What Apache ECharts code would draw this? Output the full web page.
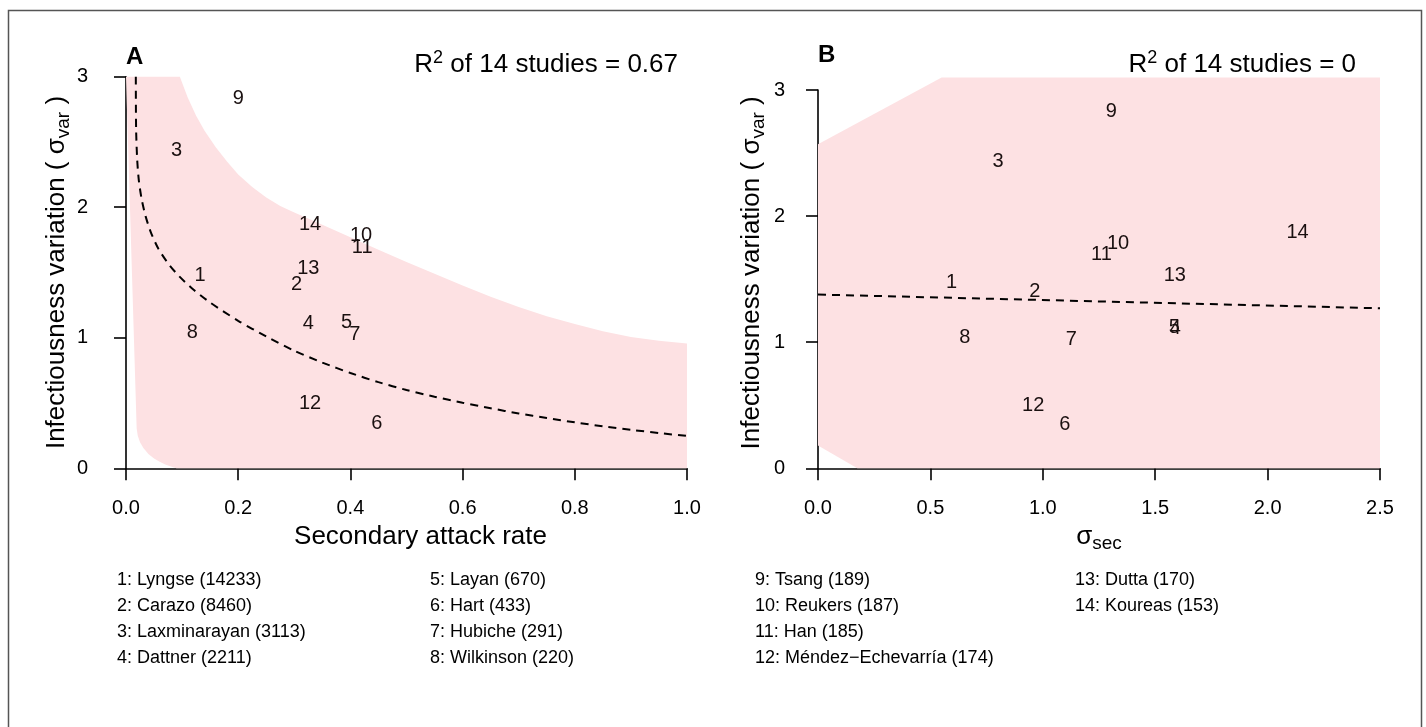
<!DOCTYPE html>
<html><head><meta charset="utf-8">
<script src="https://cdn.jsdelivr.net/npm/echarts@6/dist/echarts.min.js"></script>
<style>html,body{margin:0;padding:0;background:#fff}#chart{width:1426px;height:727px}</style>
</head><body><div id="chart"></div>
<script>
// ---- data ----
const studyIds = ['1','2','3','4','5','6','7','8','9','10','11','12','13','14'];
const studyNames = ['Lyngse (14233)','Carazo (8460)','Laxminarayan (3113)','Dattner (2211)','Layan (670)','Hart (433)','Hubiche (291)','Wilkinson (220)','Tsang (189)','Reukers (187)','Han (185)','Méndez\u2212Echevarría (174)','Dutta (170)','Koureas (153)'];
const sigmaVar = [1.475, 1.405, 2.435, 1.110, 1.118, 0.345, 1.024, 1.040, 2.830, 1.780, 1.694, 0.500, 1.528, 1.870];
const secondaryAttackRate = [0.132, 0.304, 0.090, 0.325, 0.393, 0.447, 0.408, 0.118, 0.200, 0.419, 0.421, 0.328, 0.325, 0.328];
const sigmaSec = [0.594, 0.964, 0.801, 1.590, 1.585, 1.098, 1.127, 0.653, 1.305, 1.335, 1.261, 0.957, 1.587, 2.133];

// dashed fitted curve, panel A
const fitA_x = [0.0175,0.018,0.020,0.023,0.028,0.035,0.045,0.058,0.075,0.095,0.12,0.15,0.2,0.25,0.3,0.35,0.4,0.45,0.5,0.55,0.6,0.65,0.7,0.75,0.8,0.85,0.9,0.95,1.0];
const fitA_y = [3.0,2.6,2.36,2.2,2.06,1.93,1.80,1.68,1.57,1.47,1.37,1.27,1.13,1.01,0.90,0.81,0.73,0.66,0.60,0.548,0.502,0.46,0.42,0.385,0.352,0.322,0.295,0.27,0.248];

// shaded band, panel A: upper edge then lower edge
const bandA_x = [0.096,0.11,0.125,0.14,0.16,0.18,0.2,0.225,0.25,0.275,0.3,0.35,0.4,0.45,0.5,0.55,0.6,0.65,0.7,0.75,0.8,0.85,0.9,0.95,1.0,
                 1.0,0.09,0.08,0.07,0.06,0.05,0.04,0.031,0.025,0.021,0.019,0.0];
const bandA_y = [3.0,2.84,2.70,2.585,2.46,2.35,2.25,2.155,2.075,2.01,1.96,1.865,1.77,1.675,1.58,1.49,1.40,1.315,1.235,1.165,1.105,1.05,1.005,0.978,0.957,
                 0.0,0.0,0.013,0.03,0.05,0.075,0.11,0.155,0.2,0.25,0.305,3.0];

const fitB_x = [0.0, 2.5];
const fitB_y = [1.378, 1.269];
const bandB_x = [0.0, 0.0, 0.55, 2.5, 2.5, 0.175];
const bandB_y = [0.18, 2.57, 3.1, 3.1, 0.0, 0.0];

const xTicksA = {min:0, max:1, interval:0.2};
const xTicksB = {min:0, max:2.5, interval:0.5};
const yTicks = {min:0, max:3, interval:1};

// ---- style ----
const FONT = 'Liberation Sans, Arial, Helvetica, sans-serif';
const BAND = '#FDE1E3';
const INK = '#1a1010';

const zip = (a,b) => a.map((v,i)=>[v,b[i]]);
const chart = echarts.init(document.getElementById('chart'), null, {renderer:'canvas'});

function polySeries(xi, yi, xs, ys){
  return {type:'custom', xAxisIndex:xi, yAxisIndex:yi, silent:true, z:1,
    data:[[xs[0],ys[0]]],
    renderItem:(params, api)=>({type:'polygon',
      shape:{points: xs.map((x,i)=>api.coord([x, ys[i]]))},
      style:{fill:BAND, stroke:null}})};
}
function labelSeries(xi, yi, xs){
  return {type:'custom', xAxisIndex:xi, yAxisIndex:yi, silent:true, z:5,
    data: studyIds.map((id,i)=>[xs[i], sigmaVar[i], i]),
    renderItem:(params, api)=>{
      const p = api.coord([api.value(0), api.value(1)]);
      return {type:'text', x:p[0], y:p[1],
        style:{text: studyIds[api.value(2)], fill:INK, font:'20px '+FONT, align:'center', verticalAlign:'middle'}};
    }};
}
function fitSeries(xi, yi, xs, ys, smooth){
  return {type:'line', xAxisIndex:xi, yAxisIndex:yi, data:zip(xs,ys), showSymbol:false, silent:true, z:3,
    smooth:smooth, clip:false,
    lineStyle:{color:'#000', width:2, type:[8,6]}};
}
const axLine = {show:true, lineStyle:{color:'#000', width:1.6}};
const axTick = {show:true, inside:false, length:12, lineStyle:{color:'#000', width:1.6}};
const subRich = {sub:{fontFamily:FONT, fontSize:19, color:'#000', padding:[14,0,0,0]}};

const option = {
  animation:false,
  backgroundColor:'#fff',
  grid:[
    {left:126, top:76.7, width:561, height:391.6},
    {left:818, top:77.4, width:562, height:390.9},
    {left:818, top:90.0, width:562, height:378.3}
  ],
  xAxis:[
    {gridIndex:0, type:'value', ...xTicksA, offset:3.5, splitLine:{show:false}, axisLine:axLine, axisTick:axTick,
     axisLabel:{margin:27, fontFamily:FONT, fontSize:20, color:'#000', formatter:v=>v.toFixed(1)},
     name:'Secondary attack rate', nameLocation:'middle', nameGap:47,
     nameTextStyle:{fontFamily:FONT, fontSize:26, color:'#000', padding:[0,0,0,28]}},
    {gridIndex:1, type:'value', ...xTicksB, offset:3.4, splitLine:{show:false}, axisLine:axLine, axisTick:axTick,
     axisLabel:{margin:27, fontFamily:FONT, fontSize:20, color:'#000', formatter:v=>v.toFixed(1)},
     name:'σ{sub|sec}', nameLocation:'middle', nameGap:45,
     nameTextStyle:{fontFamily:FONT, fontSize:26, color:'#000', rich:subRich}},
    {gridIndex:2, type:'value', ...xTicksB, show:false}
  ],
  yAxis:[
    {gridIndex:0, type:'value', ...yTicks, offset:11, splitLine:{show:false}, axisLine:axLine, axisTick:axTick,
     axisLabel:{margin:27, fontFamily:FONT, fontSize:20, color:'#000'},
     name:'Infectiousness variation ( σ{sub|var} )', nameLocation:'middle', nameGap:40, nameRotate:90,
     nameTextStyle:{fontFamily:FONT, fontSize:26, color:'#000', rich:subRich}},
    {gridIndex:1, type:'value', min:0, max:3.1, show:true, offset:6,
     axisLine:{show:false}, axisTick:{show:false}, axisLabel:{show:false}, splitLine:{show:false},
     name:'Infectiousness variation ( σ{sub|var} )', nameLocation:'middle', nameGap:44, nameRotate:90,
     nameTextStyle:{fontFamily:FONT, fontSize:26, color:'#000', rich:subRich}},
    {gridIndex:2, type:'value', ...yTicks, offset:6, splitLine:{show:false}, axisLine:axLine, axisTick:axTick,
     axisLabel:{margin:27, fontFamily:FONT, fontSize:20, color:'#000'}}
  ],
  series:[
    polySeries(0,0,bandA_x,bandA_y),
    fitSeries(0,0,fitA_x,fitA_y,0.25),
    labelSeries(0,0,secondaryAttackRate),
    polySeries(1,1,bandB_x,bandB_y),
    fitSeries(1,1,fitB_x,fitB_y,false),
    labelSeries(1,1,sigmaSec)
  ],
  graphic:[]
};

const g = option.graphic;
g.push({type:'rect', silent:true, shape:{x:8.5, y:10.5, width:1413, height:740},
  style:{fill:null, stroke:'#555', lineWidth:1.5}, z:0});
g.push({type:'text', left:126, top:45, style:{text:'A', font:'bold 24px '+FONT, fill:'#000'}});
g.push({type:'text', left:818, top:43, style:{text:'B', font:'bold 24px '+FONT, fill:'#000'}});
const r2Rich = {n:{fontFamily:FONT, fontSize:26, color:'#000'}, sup:{fontFamily:FONT, fontSize:18, color:'#000', padding:[0,0,14,0]}};
g.push({type:'text', right:1426-678, top:49, style:{text:'{n|R}{sup|2}{n| of 14 studies = 0.67}', rich:r2Rich}});
g.push({type:'text', right:1426-1356, top:49, style:{text:'{n|R}{sup|2}{n| of 14 studies = 0}', rich:r2Rich}});

const legendColX = [117, 430, 755, 1075];
const legendRowY = [580, 606.5, 632.5, 658.5];
studyNames.forEach((nm,i)=>{
  const col = Math.floor(i/4), row = i%4;
  g.push({type:'text', x:legendColX[col], y:legendRowY[row],
    style:{text: studyIds[i]+': '+nm, fontFamily:FONT, fontSize:18, fill:'#000', textVerticalAlign:'middle'}});
});

chart.setOption(option);
</script></body></html>
